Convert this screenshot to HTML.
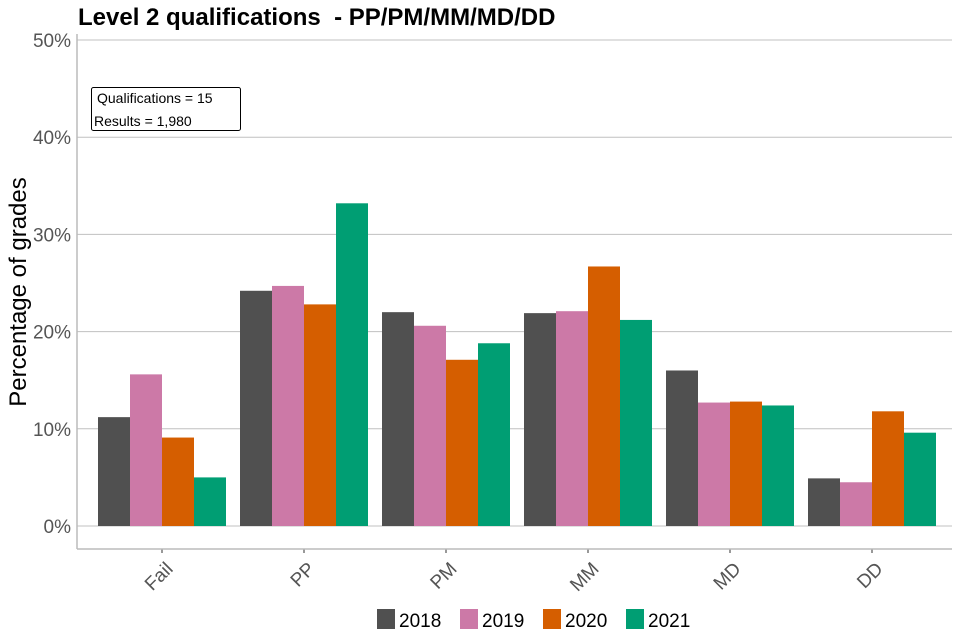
<!DOCTYPE html>
<html><head><meta charset="utf-8"><style>
body{margin:0;background:#fff;}
svg{display:block;font-family:"Liberation Sans",Arial,sans-serif;}
</style></head><body>
<svg id="chart" width="960" height="640">
<text x="78" y="25" font-size="24" font-weight="bold" fill="#000">Level 2 qualifications &#160;- PP/PM/MM/MD/DD</text>
<g id="grid"></g>
<g id="bars"></g>
<g id="axes"></g>
<text transform="translate(26,292) rotate(-90)" text-anchor="middle" font-size="24" fill="#000">Percentage of grades</text>
<g>
<rect x="91.5" y="87.5" width="149" height="43" rx="2" fill="#fff" stroke="#000" stroke-width="1"/>
<text x="97" y="103" font-size="14" fill="#000">Qualifications = 15</text>
<text x="94" y="126" font-size="14" fill="#000">Results = 1,980</text>
</g>
<g id="legend"></g>
</svg>
<script>
const categories = ["Fail","PP","PM","MM","MD","DD"];
const years = ["2018","2019","2020","2021"];
const s2018 = [11.2,24.2,22.0,21.9,16.0,4.9];
const s2019 = [15.6,24.7,20.6,22.1,12.7,4.5];
const s2020 = [9.1,22.8,17.1,26.7,12.8,11.8];
const s2021 = [5.0,33.2,18.8,21.2,12.4,9.6];
const yTicks = [0,10,20,30,40,50];
const yTickLabels = ["0%","10%","20%","30%","40%","50%"];

const series = [s2018,s2019,s2020,s2021];
const colors = ["#505050","#CC79A7","#D55E00","#009E73"];
const NS = "http://www.w3.org/2000/svg";
const x0 = 77, x1 = 952, yTop = 34, yBot = 549;
const y = v => 526 - v * 9.72;
const step = 142, first = 162, bw = 32;
const xc = i => first + i * step;
function mk(tag, attrs, parent){const e=document.createElementNS(NS,tag);for(const k in attrs)e.setAttribute(k,attrs[k]);parent.appendChild(e);return e;}
const grid=document.getElementById('grid'), bars=document.getElementById('bars'), axes=document.getElementById('axes'), legend=document.getElementById('legend');
yTicks.forEach((t,i)=>{
  const l=mk('line',{x1:x0,x2:x1,y1:y(t),y2:y(t),stroke:'#c0c0c0','stroke-width':1},grid);
  
  
  const tx=mk('text',{x:71,y:y(t)+7,'text-anchor':'end','font-size':19,fill:'#555'},axes);
  tx.textContent=yTickLabels[i];
  
  
});
categories.forEach((c,i)=>{
  series.forEach((s,j)=>{
    const bx=xc(i)-2*bw+j*bw;
    const r=mk('rect',{x:bx,y:y(s[i]),width:bw,height:y(0)-y(s[i]),fill:colors[j]},bars);
    
    
  });
  mk('line',{x1:xc(i),x2:xc(i),y1:yBot,y2:yBot+4,stroke:'#333','stroke-width':1},axes);
  const tx=mk('text',{transform:`translate(${xc(i)+12},${yBot+21}) rotate(-45)`,'text-anchor':'end','font-size':19,fill:'#555'},axes);
  tx.textContent=c;
  
  
});
mk('line',{x1:x0,x2:x0,y1:yTop,y2:yBot,stroke:'#bbb','stroke-width':1.5},axes);
mk('line',{x1:x0,x2:x1,y1:yBot,y2:yBot,stroke:'#bbb','stroke-width':1.5},axes);
const lx=[377,460,543,626];
years.forEach((yr,j)=>{
  const r=mk('rect',{x:lx[j],y:609,width:18,height:20,fill:colors[j]},legend);
  
  
  const t=mk('text',{x:lx[j]+22,y:627,'font-size':19,fill:'#000'},legend);
  t.textContent=yr;
  
  
});
</script>
</body></html>
